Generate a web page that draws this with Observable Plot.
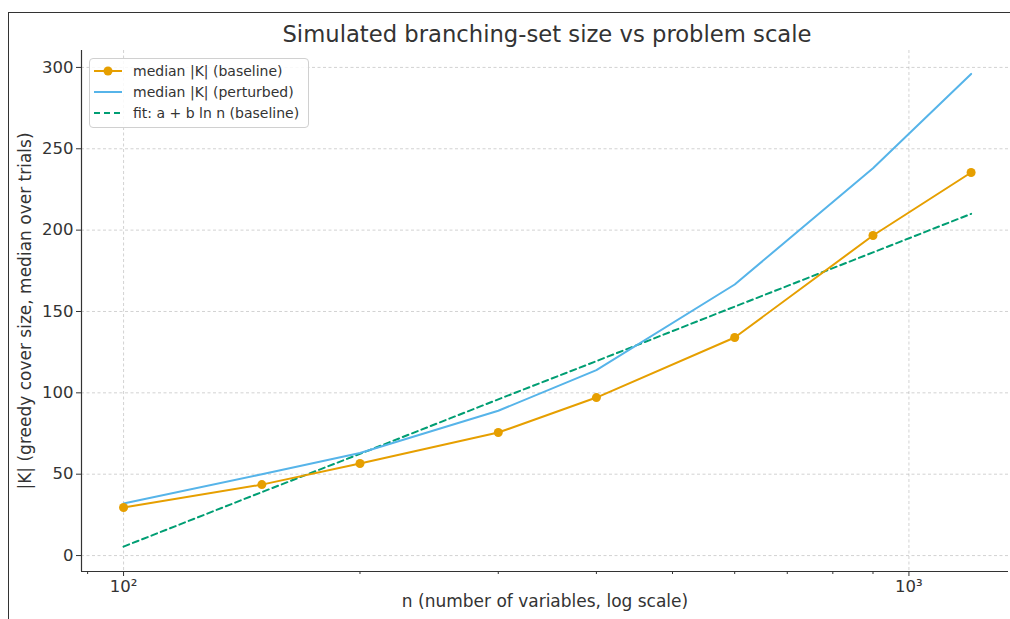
<!DOCTYPE html>
<html>
<head>
<meta charset="utf-8">
<script src="https://cdn.jsdelivr.net/npm/d3@7"></script>
<script src="https://cdn.jsdelivr.net/npm/@observablehq/plot@0.6"></script>
<style>
  html, body { margin: 0; padding: 0; background: #fff; }
  body { width: 1010px; height: 619px; position: relative; overflow: hidden; font-family: "DejaVu Sans", sans-serif; }
  #frame { position: absolute; left: 8px; top: 12px; width: 1010px; height: 700px; border-left: 1.5px solid #333; border-top: 1.5px solid #333; }
  #title { position: absolute; left: 0; top: 21px; width: 1094px; text-align: center; font-size: 22.7px; line-height: 26px; color: #333; }
  #chart { position: absolute; left: 0; top: 0; }
  #legend { position: absolute; left: 89px; top: 58px; width: 218px; height: 68px; border: 1px solid #d0d0d0; border-radius: 4px; background: rgba(255,255,255,0.85); font-size: 14px; color: #333; }
  .row { position: absolute; left: 3px; height: 20px; display: flex; align-items: center; }
  .row svg { margin-right: 10px; }
</style>
</head>
<body>
<div id="frame"></div>
<div id="chart"></div>
<div id="title">Simulated branching-set size vs problem scale</div>
<div id="legend"></div>
<script>
const nValues = [100, 150, 200, 300, 400, 600, 900, 1200];
const baseline = [29.5, 43.6, 56.6, 75.6, 97.1, 134, 196.7, 235.4];
const perturbed = [32, 50, 63, 89, 114, 166.6, 238, 296];
const fitBaseline = [5.5, 39, 62.5, 96, 119.5, 153, 186.3, 210];
const seriesNames = ["median |K| (baseline)", "median |K| (perturbed)", "fit: a + b ln n (baseline)"];
const colors = ["#E69F00", "#56B4E9", "#009E73"];
const yTicks = [0, 50, 100, 150, 200, 250, 300];
const xMajor = [100, 1000];
const xMinor = [90, 200, 300, 400, 500, 600, 700, 800, 900];
const xDomain = [88.4, 1339];
const yDomain = [-9.8, 310.4];
const xLabel = "n (number of variables, log scale)";
const yLabel = "|K| (greedy cover size, median over trials)";

const rows = (vals) => nValues.map((n, i) => ({n, v: vals[i]}));
const sup = {"2": "\u00b2", "3": "\u00b3"};

const chart = Plot.plot({
  width: 1010,
  height: 619,
  marginLeft: 81,
  marginRight: 2,
  marginTop: 50,
  marginBottom: 48,
  style: {fontFamily: "DejaVu Sans, sans-serif", fontSize: "16px", color: "#333", background: "transparent"},
  x: {type: "log", domain: xDomain},
  y: {domain: yDomain},
  marks: [
    Plot.gridY(yTicks, {stroke: "#b0b0b0", strokeOpacity: 0.7, strokeDasharray: "3,2.5", strokeWidth: 0.8}),
    Plot.gridX(xMajor, {stroke: "#b0b0b0", strokeOpacity: 0.7, strokeDasharray: "3,2.5", strokeWidth: 0.8}),
    Plot.ruleX([xDomain[0]], {stroke: "#333", strokeWidth: 1.2}),
    Plot.ruleY([yDomain[0]], {stroke: "#333", strokeWidth: 1.2}),
    Plot.axisY(yTicks, {tickSize: 5, tickPadding: 3, fontSize: 16.5, label: null, tickFormat: d => String(d)}),
    Plot.axisX(xMajor, {tickSize: 5, tickPadding: 4, fontSize: 16.5, tickFormat: d => "10" + sup[String(Math.round(Math.log10(d)))], label: null}),
    Plot.axisX(xMinor, {tickSize: 3, tickFormat: () => "", label: null}),
    Plot.text([xLabel], {text: d => d, frameAnchor: "bottom", dy: 35, fontSize: 17, fill: "#333"}),
    Plot.text([yLabel], {text: d => d, frameAnchor: "left", textAnchor: "middle", dx: -56, rotate: -90, fontSize: 17, fill: "#333"}),
    Plot.line(rows(fitBaseline), {x: "n", y: "v", stroke: colors[2], strokeWidth: 2, strokeDasharray: "6,4"}),
    Plot.line(rows(perturbed), {x: "n", y: "v", stroke: colors[1], strokeWidth: 2}),
    Plot.line(rows(baseline), {x: "n", y: "v", stroke: colors[0], strokeWidth: 2}),
    Plot.dot(rows(baseline), {x: "n", y: "v", fill: colors[0], r: 4.5})
  ]
});
document.getElementById("chart").appendChild(chart);

const legend = document.getElementById("legend");
const tops = [2, 23, 44];
seriesNames.forEach((name, i) => {
  const row = document.createElement("div");
  row.className = "row";
  row.style.top = tops[i] + "px";
  let sw = `<svg width="30" height="12">`;
  if (i === 2) sw += `<line x1="1" y1="6" x2="29" y2="6" stroke="${colors[i]}" stroke-width="2" stroke-dasharray="6,4"/>`;
  else sw += `<line x1="1" y1="6" x2="29" y2="6" stroke="${colors[i]}" stroke-width="2"/>`;
  if (i === 0) sw += `<circle cx="15" cy="6" r="4.5" fill="${colors[i]}"/>`;
  sw += `</svg>`;
  row.innerHTML = sw + `<span>${name}</span>`;
  legend.appendChild(row);
});
</script>
</body>
</html>
